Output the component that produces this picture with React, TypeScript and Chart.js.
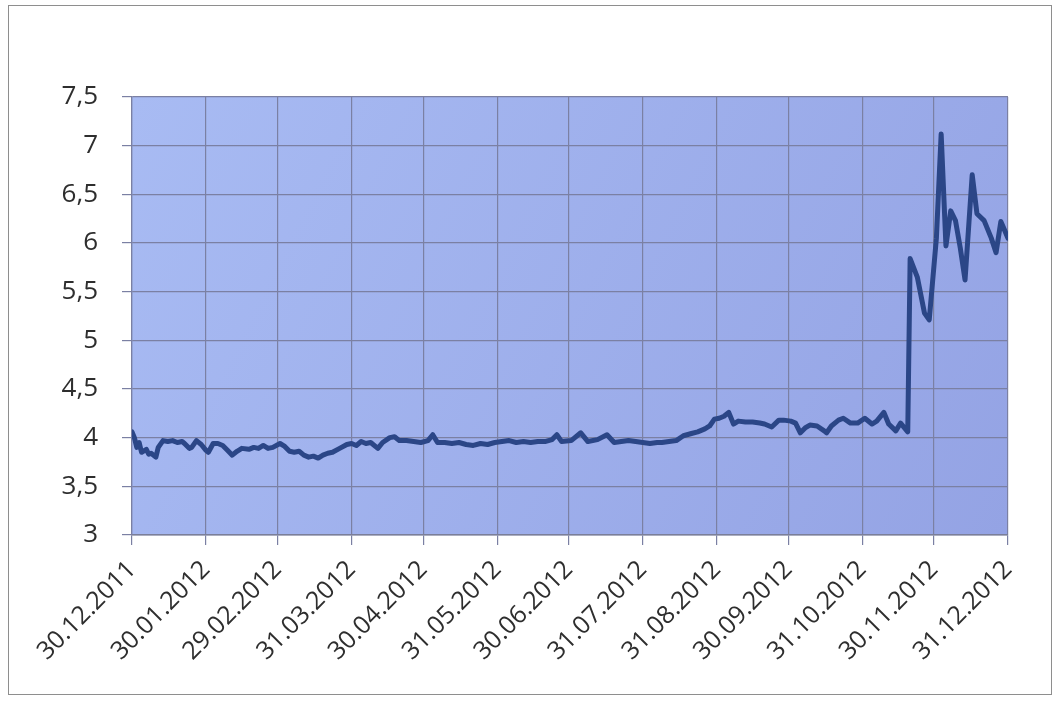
import React, { useEffect, useRef } from "react";
import { Chart, registerables } from "chart.js";

Chart.register(...registerables);

// Days elapsed since 30.12.2011
const DAYS = [
  0, 1, 2, 3, 4, 6, 7, 8, 10, 11, 13, 15, 17, 19, 21, 22, 24, 25, 27, 29,
  31, 32, 34, 36, 38, 40, 42, 44, 46, 49, 51, 53, 55, 57, 59, 62, 64, 66, 68, 70,
  72, 74, 76, 78, 80, 82, 84, 87, 90, 92, 94, 96, 98, 100, 103, 105, 108, 110, 112, 115,
  118, 121, 124, 126, 128, 131, 134, 137, 140, 143, 146, 149, 152, 155, 158, 161, 164, 167, 170, 173,
  176, 178, 180, 184, 188, 191, 195, 199, 202, 205, 208, 211, 214, 217, 220, 222, 225, 228, 231, 234,
  237, 240, 242, 244, 246, 248, 250, 252, 254, 257, 260, 263, 265, 268, 271, 273, 276, 278, 280, 282,
  284, 287, 290, 291, 293, 296, 298, 301, 304, 307, 310, 312, 315, 317, 320, 322, 325, 326, 329, 332,
  334, 337, 339, 341, 343, 345, 347, 349, 352, 354, 357, 360, 362, 364, 367,
];

const VALUES = [
  4.06, 4.0, 3.9, 3.95, 3.85, 3.88, 3.83, 3.84, 3.8, 3.9, 3.97, 3.96, 3.97, 3.95, 3.96, 3.94, 3.89, 3.9, 3.97, 3.93,
  3.87, 3.85, 3.94, 3.94, 3.92, 3.87, 3.82, 3.86, 3.89, 3.88, 3.9, 3.89, 3.92, 3.89, 3.9, 3.94, 3.91, 3.86, 3.85, 3.86,
  3.82, 3.8, 3.81, 3.79, 3.82, 3.84, 3.85, 3.89, 3.93, 3.94, 3.92, 3.96, 3.94, 3.95, 3.89, 3.95, 4.0, 4.01, 3.97, 3.97,
  3.96, 3.95, 3.97, 4.03, 3.95, 3.95, 3.94, 3.95, 3.93, 3.92, 3.94, 3.93, 3.95, 3.96, 3.97, 3.95, 3.96, 3.95, 3.96, 3.96,
  3.98, 4.03, 3.96, 3.97, 4.05, 3.96, 3.98, 4.03, 3.95, 3.96, 3.97, 3.96, 3.95, 3.94, 3.95, 3.95, 3.96, 3.97, 4.02, 4.04,
  4.06, 4.09, 4.12, 4.19, 4.2, 4.22, 4.26, 4.14, 4.17, 4.16, 4.16, 4.15, 4.14, 4.11, 4.18, 4.18, 4.17, 4.15, 4.05, 4.1,
  4.13, 4.12, 4.07, 4.05, 4.12, 4.18, 4.2, 4.15, 4.15, 4.2, 4.14, 4.17, 4.26, 4.14, 4.07, 4.15, 4.06, 5.84, 5.65, 5.28,
  5.21, 6.05, 7.12, 5.97, 6.33, 6.23, 5.95, 5.62, 6.7, 6.3, 6.23, 6.05, 5.9, 6.22, 6.05,
];

const X_TICK_DAYS = [0, 31, 61, 92, 122, 153, 183, 214, 245, 275, 306, 336, 367];
const X_TICK_LABELS = [
  "30.12.2011", "30.01.2012", "29.02.2012", "31.03.2012", "30.04.2012", "31.05.2012",
  "30.06.2012", "31.07.2012", "31.08.2012", "30.09.2012", "31.10.2012", "30.11.2012", "31.12.2012",
];

const Y_MIN = 3;
const Y_MAX = 7.5;
const Y_STEP = 0.5;

export default function App() {
  const ref = useRef<HTMLCanvasElement>(null);

  useEffect(() => {
    if (!ref.current) return;
    const bgPlugin = {
      id: "plotBg",
      beforeDraw(chart: any) {
        const { ctx, chartArea: a } = chart;
        const g = ctx.createLinearGradient(a.left, a.top, a.right, a.bottom);
        g.addColorStop(0, "rgb(168,187,243)");
        g.addColorStop(1, "rgb(148,163,228)");
        ctx.save();
        ctx.fillStyle = g;
        ctx.fillRect(a.left, a.top, a.width, a.height);
        ctx.restore();
      },
    };

    const chart = new Chart(ref.current, {
      type: "line",
      data: {
        datasets: [
          {
            data: DAYS.map((d, i) => ({ x: d, y: VALUES[i] })),
            borderColor: "#2b4687",
            borderWidth: 5,
            pointRadius: 0,
            tension: 0,
            borderJoinStyle: "round",
            borderCapStyle: "round",
          },
        ],
      },
      options: {
        responsive: false,
        animation: false,
        layout: { padding: { left: 0, top: 97, right: 51, bottom: 0 } },
        plugins: { legend: { display: false }, tooltip: { enabled: false } },
        scales: {
          x: {
            type: "linear",
            min: 0,
            max: 367,
            afterBuildTicks: (scale: any) => {
              scale.ticks = X_TICK_DAYS.map((v) => ({ value: v }));
            },
            afterFit: (scale: any) => {
              scale.height = 173;
            },
            grid: { color: "#7b80a3", lineWidth: 1.2, tickLength: 10 },
            border: { color: "#7b7f99", width: 1.5 },
            ticks: {
              autoSkip: false,
              minRotation: 45,
              maxRotation: 45,
              padding: 10,
              color: "#2e2e2e",
              font: { family: "Open Sans", size: 25 },
              callback: (_v: any, i: number) => X_TICK_LABELS[i],
            },
          },
          y: {
            min: Y_MIN,
            max: Y_MAX,
            afterFit: (scale: any) => {
              scale.width = 132;
            },
            grid: { color: "#7b80a3", lineWidth: 1.2, tickLength: 10 },
            border: { color: "#7b80a3", width: 1.2 },
            ticks: {
              stepSize: Y_STEP,
              padding: 24,
              color: "#2e2e2e",
              font: { family: "Open Sans", size: 26 },
              callback: (v: any) => String(v).replace(".", ","),
            },
          },
        },
      },
      plugins: [bgPlugin],
    });
    return () => chart.destroy();
  }, []);

  return (
    <div style={{ position: "absolute", left: 0, top: 0, width: 1059, height: 708, background: "#fff" }}>
      <div
        style={{
          position: "absolute",
          left: 8,
          top: 5,
          width: 1044,
          height: 690,
          border: "1.5px solid #8e8e8e",
          boxSizing: "border-box",
        }}
      />
      <canvas ref={ref} width={1059} height={708} style={{ position: "absolute", left: 0, top: 0 }} />
    </div>
  );
}
